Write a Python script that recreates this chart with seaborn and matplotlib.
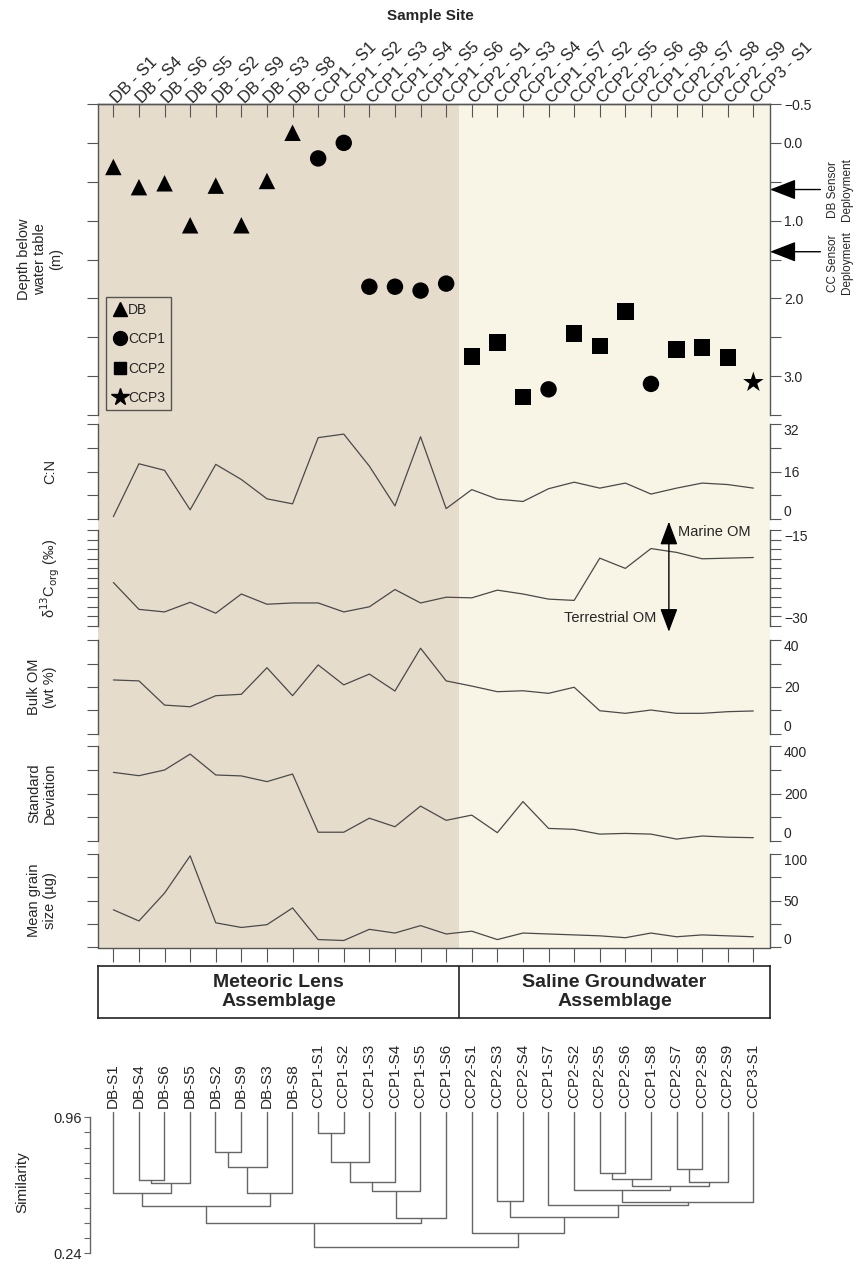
import numpy as np
import pandas as pd
import seaborn as sns
import matplotlib.pyplot as plt
from matplotlib.lines import Line2D

# ---- data ----
sites = ['DB - S1', 'DB - S4', 'DB - S6', 'DB - S5', 'DB - S2', 'DB - S9', 'DB - S3', 'DB - S8',
         'CCP1 - S1', 'CCP1 - S2', 'CCP1 - S3', 'CCP1 - S4', 'CCP1 - S5', 'CCP1 - S6',
         'CCP2 - S1', 'CCP2 - S3', 'CCP2 - S4', 'CCP1 - S7', 'CCP2 - S2', 'CCP2 - S5',
         'CCP2 - S6', 'CCP1 - S8', 'CCP2 - S7', 'CCP2 - S8', 'CCP2 - S9', 'CCP3 - S1']
groups = ['DB'] * 8 + ['CCP1'] * 6 + ['CCP2', 'CCP2', 'CCP2', 'CCP1', 'CCP2', 'CCP2',
                                      'CCP2', 'CCP1', 'CCP2', 'CCP2', 'CCP2', 'CCP3']
depth = [0.31, 0.57, 0.52, 1.06, 0.55, 1.06, 0.49, -0.13, 0.20, 0.0, 1.85, 1.85, 1.90, 1.81,
         2.75, 2.57, 3.27, 3.17, 2.45, 2.61, 2.17, 3.10, 2.66, 2.63, 2.76, 3.08]
cn = [0.8, 18.6, 16.4, 3.1, 18.4, 13.3, 6.8, 5.1, 27.4, 28.6, 17.8, 4.4, 27.7, 3.5,
      9.9, 6.7, 5.9, 10.2, 12.4, 10.4, 12.1, 8.4, 10.4, 12.1, 11.6, 10.4]
d13c = [-23.2, -27.4, -27.8, -26.3, -28.0, -25.0, -26.6, -26.4, -26.4, -27.8, -27.0, -24.3,
        -26.4, -25.5, -25.6, -24.4, -25.0, -25.8, -26.0, -19.4, -21.0, -17.9, -18.5, -19.5,
        -19.4, -19.3]
bulk_om = [23.0, 22.6, 12.3, 11.6, 16.3, 16.9, 28.2, 16.3, 29.4, 20.9, 25.5, 18.3, 36.5, 22.6,
           20.4, 18.0, 18.4, 17.3, 19.9, 9.9, 8.8, 10.2, 8.8, 8.8, 9.5, 9.8]
std_dev = [289, 275, 299, 366, 278, 274, 250, 282, 37, 37, 96, 60, 147, 87,
           109, 35, 166, 53, 49, 29, 32, 29, 8, 21, 16, 14]
grain = [40, 28, 58, 98, 26, 21, 24, 42, 8, 7, 19, 15, 23, 14,
         17, 8, 15, 14, 13, 12, 10, 15, 11, 13, 12, 11]
sensor_depths = {'DB Sensor\nDeployment': 0.6, 'CC Sensor\nDeployment': 1.4}

# dendrogram merges: (left, right, similarity); leaves keep the order of `sites`
merges = [(1, 2, 0.628), (26, 3, 0.614), (0, 27, 0.558), (4, 5, 0.775), (29, 6, 0.699),
          (30, 7, 0.558), (28, 31, 0.492), (8, 9, 0.875), (33, 10, 0.722), (34, 11, 0.619),
          (35, 12, 0.572), (36, 13, 0.429), (32, 37, 0.402), (19, 20, 0.667), (39, 21, 0.632),
          (22, 23, 0.686), (41, 24, 0.619), (40, 42, 0.598), (18, 43, 0.575), (44, 25, 0.513),
          (17, 45, 0.496), (15, 16, 0.517), (47, 46, 0.434), (14, 48, 0.35), (38, 49, 0.275)]

df = pd.DataFrame({'site': sites, 'group': groups, 'depth': depth, 'cn': cn, 'd13c': d13c,
                   'bulk_om': bulk_om, 'sd': std_dev, 'grain': grain})
df['pos'] = np.arange(len(df))

sns.set_style('ticks')
plt.rcParams['font.family'] = ['Liberation Sans', 'DejaVu Sans']
plt.rcParams['axes.linewidth'] = 1.0

W, H = 861, 1268
fig = plt.figure(figsize=(W / 100, H / 100), dpi=100)


def box(x0, y0, x1, y1):
    return [x0 / W, 1 - y1 / H, (x1 - x0) / W, (y1 - y0) / H]


XL = (-0.6, 25.65)
split = 13.5
tan, cream = '#e6dccc', '#f8f4e6'
line_col = '#4a4a4a'
spine_col = '#555555'

# background with shading, top site labels and bottom ticks
bg = fig.add_axes(box(98, 104, 770, 948))
bg.axvspan(XL[0], split, color=tan, lw=0, zorder=0)
bg.axvspan(split, XL[1], color=cream, lw=0, zorder=0)
bg.set_xlim(XL)
bg.set_ylim(0, 1)
bg.set_yticks([])
for s in ['left', 'right']:
    bg.spines[s].set_visible(False)
for s in ['top', 'bottom']:
    bg.spines[s].set_color(spine_col)
bg.set_xticks(df['pos'])
bg.set_xticklabels([])
bg.tick_params(axis='x', direction='out', length=10, color=spine_col)

top_ax = bg.secondary_xaxis('top')
top_ax.set_xticks(df['pos'])
top_ax.set_xticklabels(df['site'], rotation=45, ha='left', va='center', rotation_mode='anchor',
                       fontsize=12)
top_ax.tick_params(axis='x', direction='in', length=9, color=spine_col, pad=2)
top_ax.spines['top'].set_color(spine_col)
fig.text(430 / W, 1 - 16 / H, 'Sample Site', ha='center', va='center', fontsize=11,
         fontweight='bold')

panels = [
    ('depth', 104, 415, (3.5, -0.5), np.arange(-0.5, 3.51, 0.5),
     {-0.5: '\u22120.5', 0.0: '0.0', 1.0: '1.0', 2.0: '2.0', 3.0: '3.0'},
     'Depth below\nwater table\n(m)', 40),
    ('cn', 424, 519, (0, 32), np.arange(0, 33, 8), {0: '0', 16: '16', 32: '32'}, 'C:N', 50),
    ('d13c', 530, 626, (-30, -15), np.arange(-30, -14.9, 1.5),
     {-30: '\u221230', -15: '\u221215'}, '\u03b4$^{13}$C$_{\\mathrm{org}}$ (\u2030)', 50),
    ('bulk_om', 640, 734, (0, 40), np.arange(0, 41, 10), {0: '0', 20: '20', 40: '40'},
     'Bulk OM\n(wt %)', 42),
    ('sd', 746, 841, (0, 400), np.arange(0, 401, 100), {0: '0', 200: '200', 400: '400'},
     'Standard\nDeviation', 42),
    ('grain', 854, 947, (0, 100), np.arange(0, 101, 25), {0: '0', 50: '50', 100: '100'},
     'Mean grain\nsize (\u00b5g)', 42),
]

axes = {}
for col, y0, y1, ylim, ticks, labels, ylabel, lx in panels:
    ax = fig.add_axes(box(98, y0, 770, y1))
    ax.set_facecolor('none')
    if col == 'depth':
        markers = {'DB': '^', 'CCP1': 'o', 'CCP2': 's', 'CCP3': '*'}
        for g, sub in df.groupby('group', sort=False):
            sns.scatterplot(data=sub, x='pos', y='depth', marker=markers[g], color='black',
                            s=240 if g == 'CCP3' else 140, edgecolor='none', ax=ax,
                            legend=False, zorder=3)
    else:
        sns.lineplot(data=df, x='pos', y=col, color=line_col, lw=0.9, ax=ax, zorder=3)
    ax.set_xlim(XL)
    ax.set_ylim(ylim)
    ax.set_xticks([])
    ax.set_xlabel('')
    ax.set_ylabel('')
    ax.set_yticks(ticks)
    ax.set_yticklabels([labels.get(round(float(t), 1), '') for t in ticks], fontsize=10)
    ax.tick_params(axis='y', left=True, right=True, labelleft=False, labelright=True,
                   direction='out', length=8, color=spine_col, pad=2)
    if col != 'depth':
        # end labels sit slightly inside the panel, as in the original
        tl = ax.get_yticklabels(which='major', minor=False)
        tl[0].set_va('bottom')
        tl[-1].set_va('top')
    for s in ['top', 'bottom']:
        ax.spines[s].set_visible(False)
    for s in ['left', 'right']:
        ax.spines[s].set_visible(True)
        ax.spines[s].set_color(spine_col)
    fig.text(lx / W, 1 - (y0 + y1) / 2 / H, ylabel, rotation=90, ha='center', va='center',
             fontsize=10.5, multialignment='center')
    axes[col] = ax

# legend
ax = axes['depth']
handles = [Line2D([], [], marker=m, color='black', ls='none', markersize=ms, label=l)
           for l, m, ms in [('DB', '^', 10), ('CCP1', 'o', 10), ('CCP2', 's', 9),
                            ('CCP3', '*', 13)]]
leg = ax.legend(handles=handles, loc='lower left', bbox_to_anchor=(0.012, 0.015),
                frameon=True, fancybox=False, fontsize=10, handletextpad=0.0,
                labelspacing=1.1, borderpad=0.4, handlelength=1.2, borderaxespad=0)
leg.get_frame().set_edgecolor('#333333')
leg.get_frame().set_facecolor('none')
leg.get_frame().set_linewidth(1)

# sensor deployment arrows
tr = ax.get_yaxis_transform()
for (label, d), ty in zip(sensor_depths.items(), [190, 263]):
    ax.annotate('', xy=(1.0, d), xycoords=tr, xytext=(1.075, d), textcoords=tr,
                arrowprops=dict(arrowstyle='-|>,head_length=0.9,head_width=0.35',
                                color='black', lw=1, mutation_scale=18, shrinkA=0, shrinkB=0),
                annotation_clip=False)
    fig.text(840 / W, 1 - ty / H, label, rotation=90, ha='center', va='center', fontsize=8.5,
             multialignment='center')

# marine / terrestrial arrow
ax = axes['d13c']
ax.annotate('', xy=(21.7, -13.7), xytext=(21.7, -30.9),
            arrowprops=dict(arrowstyle='<|-|>,head_length=0.8,head_width=0.3', color='black',
                            lw=1, mutation_scale=18, shrinkA=0, shrinkB=0),
            annotation_clip=False)
ax.text(22.05, -15.3, 'Marine OM', ha='left', va='center', fontsize=10.5)
ax.text(21.2, -28.7, 'Terrestrial OM', ha='right', va='center', fontsize=10.5)

# assemblage box
ab = fig.add_axes(box(98, 966, 770, 1018))
ab.set_xlim(XL)
ab.set_ylim(0, 1)
ab.set_xticks([])
ab.set_yticks([])
for s in ab.spines.values():
    s.set_color('#222222')
    s.set_linewidth(1.2)
ab.axvline(split, color='#222222', lw=1.2)
ab.text((XL[0] + split) / 2, 0.5, 'Meteoric Lens\nAssemblage', ha='center', va='center',
        fontsize=14, fontweight='bold', linespacing=1.15)
ab.text((split + XL[1]) / 2, 0.5, 'Saline Groundwater\nAssemblage', ha='center',
        va='center', fontsize=14, fontweight='bold', linespacing=1.15)

# dendrogram
dx0 = -(113 - 90) / 25.6
dd = fig.add_axes(box(90, 1040, 770, 1262))
dd.set_facecolor('none')
dd.set_xlim(dx0, XL[1])
dd.set_ylim(0.194, 1.369)
n = len(sites)
pos = {i: float(i) for i in range(n)}
top = {i: 0.988 for i in range(n)}
for k, (a, b, h) in enumerate(merges):
    dd.plot([pos[a], pos[a], pos[b], pos[b]], [top[a], h, h, top[b]], color='#666666', lw=1)
    pos[n + k] = (pos[a] + pos[b]) / 2
    top[n + k] = h
for i, s in enumerate(sites):
    dd.text(i, 1.008, s.replace(' ', ''), rotation=90, ha='center', va='bottom', fontsize=11)
dd.set_xticks([])
dd.set_yticks(np.arange(0.24, 0.97, 0.08))
dd.set_yticklabels(['0.24'] + [''] * 8 + ['0.96'], fontsize=10.5)
dd.tick_params(axis='y', direction='out', length=4, color='#666666', pad=2)
for s in ['top', 'right', 'bottom']:
    dd.spines[s].set_visible(False)
dd.spines['left'].set_bounds(0.24, 0.96)
dd.spines['left'].set_color('#666666')
fig.text(22 / W, 1 - 1182 / H, 'Similarity', rotation=90, ha='center', va='center',
         fontsize=11)

fig.savefig('out.png', dpi=100)
